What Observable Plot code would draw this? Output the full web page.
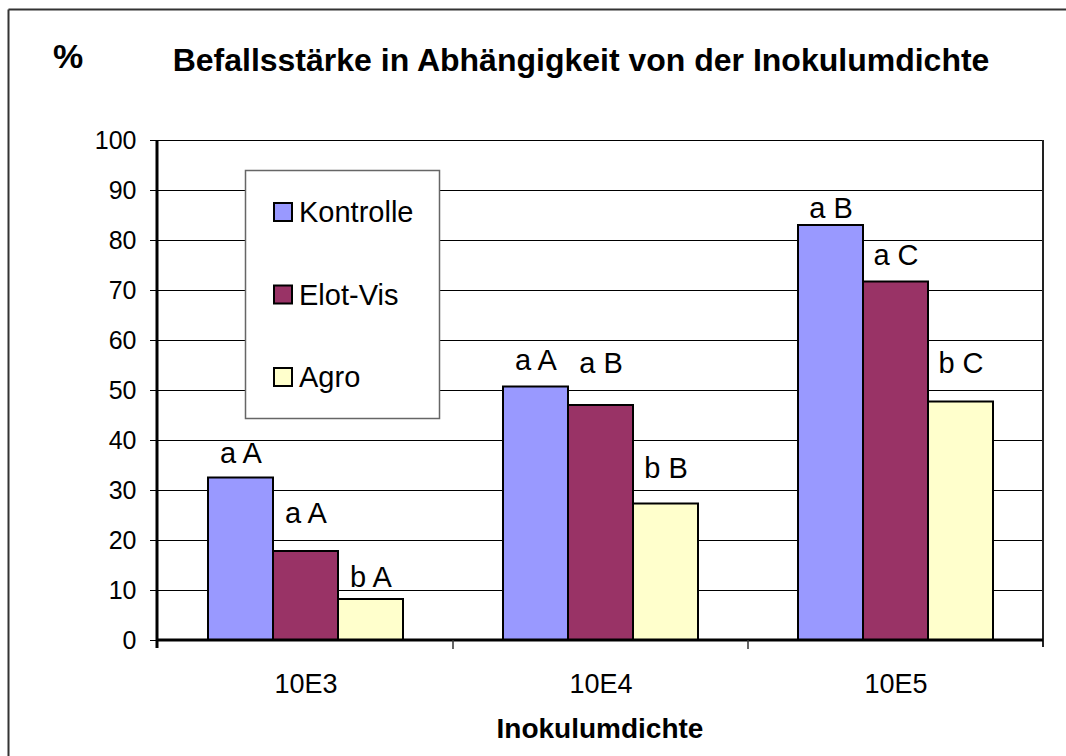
<!DOCTYPE html>
<html>
<head>
<meta charset="utf-8">
<script src="https://cdn.jsdelivr.net/npm/d3@7"></script>
<script src="https://cdn.jsdelivr.net/npm/@observablehq/plot@0.6"></script>
<style>
  html, body { margin: 0; padding: 0; background: #fff; overflow: hidden; }
  #chart { position: relative; width: 1066px; height: 756px; overflow: hidden; }
</style>
</head>
<body>
<div id="chart"></div>
<script>
// ---- data ----
const categories = ["10E3", "10E4", "10E5"];
const series = ["Kontrolle", "Elot-Vis", "Agro"];
const kontrolle = [32.5, 50.7, 83.0];
const elotVis = [17.8, 47.0, 71.7];
const agro = [8.2, 27.3, 47.7];
const kontrolleLetters = ["a A", "a A", "a B"];
const elotVisLetters = ["a A", "a B", "a C"];
const agroLetters = ["b A", "b B", "b C"];
// value-axis level at which each significance label sits
const kontrolleLabelAt = [37.4, 56.0, 86.4];
const elotVisLabelAt = [25.4, 55.4, 77.0];
const agroLabelAt = [12.6, 34.4, 55.4];
const colors = ["#9999FF", "#993366", "#FFFFCC"];
const yTicks = [0, 10, 20, 30, 40, 50, 60, 70, 80, 90, 100];
const titleText = "Befallsstärke in Abhängigkeit von der Inokulumdichte";
const xTitle = "Inokulumdichte";
const yUnit = "%";

const valuesBySeries = [kontrolle, elotVis, agro];
const lettersBySeries = [kontrolleLetters, elotVisLetters, agroLetters];
const labelAtBySeries = [kontrolleLabelAt, elotVisLabelAt, agroLabelAt];
const rows = [];
series.forEach((s, si) => categories.forEach((c, ci) => rows.push({
  cat: c, series: s, value: valuesBySeries[si][ci],
  letters: lettersBySeries[si][ci], labelAt: labelAtBySeries[si][ci]
})));

const FONT = "'Liberation Sans', Arial, sans-serif";

const plot = Plot.plot({
  width: 1066,
  height: 756,
  marginLeft: 157,
  marginRight: 23,
  marginTop: 140,
  marginBottom: 116,
  style: { fontFamily: FONT, fontSize: "25px", background: "transparent", overflow: "hidden", color: "#000" },
  fx: { domain: categories, paddingInner: 0, paddingOuter: 0, label: null },
  x: { domain: series, paddingInner: 0, paddingOuter: 0.76, axis: null },
  y: { domain: [0, 100], label: null },
  color: { domain: series, range: colors },
  marks: [
    Plot.gridY(yTicks, { stroke: "#000", strokeOpacity: 1, strokeWidth: 1, shapeRendering: "crispEdges" }),
    Plot.axisY(yTicks, { tickSize: 8, tickPadding: 14, fontSize: 25, label: null, stroke: "#000" }),
    Plot.axisFx({ anchor: "bottom", tickSize: 0, tickPadding: 33, fontSize: 27, label: null }),
    Plot.barY(rows, { fx: "cat", x: "series", y: "value", fill: "series", stroke: "#000", strokeWidth: 2, inset: 0 }),
    Plot.text(rows, { fx: "cat", x: "series", y: "labelAt", text: "letters", fontSize: 29, fill: "#000" })
  ]
});

document.getElementById("chart").appendChild(plot);

const svg = d3.select(plot);
const fx = plot.scale("fx");
const y = plot.scale("y");
const [x0, x1] = fx.range;
const yBottom = y.apply(0), yTop = y.apply(100);

// plot area border & axes lines
svg.append("line").attr("x1", x1).attr("x2", x1).attr("y1", yTop).attr("y2", yBottom + 7)
  .attr("stroke", "#222").attr("stroke-width", 2);
svg.append("line").attr("x1", x0).attr("x2", x1).attr("y1", yBottom).attr("y2", yBottom)
  .attr("stroke", "#000").attr("stroke-width", 3);
svg.append("line").attr("x1", x0).attr("x2", x0).attr("y1", yTop).attr("y2", yBottom + 8)
  .attr("stroke", "#000").attr("stroke-width", 3);
// category boundary ticks
categories.forEach((c, i) => {
  if (i === 0) return;
  const bx = fx.apply(c);
  svg.append("line").attr("x1", bx).attr("x2", bx).attr("y1", yBottom).attr("y2", yBottom + 9)
    .attr("stroke", "#333").attr("stroke-width", 1.5);
});

// outer chart frame (only top and left edges are inside the picture)
svg.append("line").attr("x1", 8.5).attr("x2", 1066).attr("y1", 9.5).attr("y2", 9.5)
  .attr("stroke", "#333").attr("stroke-width", 2);
svg.append("line").attr("x1", 8.5).attr("x2", 8.5).attr("y1", 9.5).attr("y2", 756)
  .attr("stroke", "#333").attr("stroke-width", 2);

// titles
svg.append("text").attr("x", 68).attr("y", 68).attr("text-anchor", "middle")
  .attr("font-family", FONT).attr("font-weight", "bold").attr("font-size", 34).text(yUnit);
svg.append("text").attr("x", 581).attr("y", 71).attr("text-anchor", "middle")
  .attr("font-family", FONT).attr("font-weight", "bold").attr("font-size", 32).text(titleText);
svg.append("text").attr("x", (x0 + x1) / 2).attr("y", 738).attr("text-anchor", "middle")
  .attr("font-family", FONT).attr("font-weight", "bold").attr("font-size", 28).text(xTitle);

// legend box
const lg = svg.append("g").attr("transform", "translate(245,170)");
lg.append("rect").attr("x", 0.5).attr("y", 0.5).attr("width", 194).attr("height", 248)
  .attr("fill", "#fff").attr("stroke", "#666").attr("stroke-width", 1.5);
const color = plot.scale("color");
series.forEach((s, i) => {
  const cy = 42 + i * 82.5;
  lg.append("rect").attr("x", 29).attr("y", cy - 9).attr("width", 18).attr("height", 18)
    .attr("fill", color.apply(s)).attr("stroke", "#000").attr("stroke-width", 2);
  lg.append("text").attr("x", 54).attr("y", cy).attr("dy", "0.36em").attr("text-anchor", "start")
    .attr("font-family", FONT).attr("font-size", 29).text(s);
});
</script>
</body>
</html>
